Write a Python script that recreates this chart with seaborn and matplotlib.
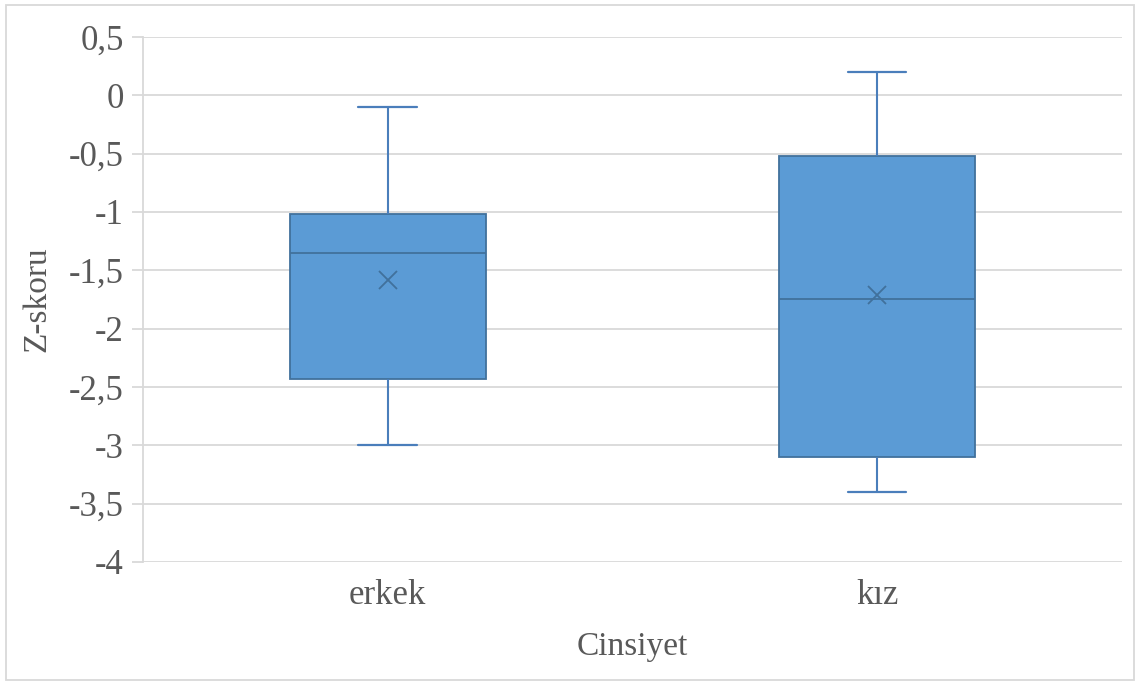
import numpy as np
import pandas as pd
import seaborn as sns
import matplotlib.pyplot as plt
from matplotlib.colors import to_hex
from matplotlib.patches import Rectangle
from matplotlib.ticker import FuncFormatter

# five-number values per group (min, q1, median, q3, max)
erkek = [-3.0, -2.43, -1.35, -1.02, -0.1]
kiz = [-3.4, -3.1, -1.75, -0.52, 0.2]
groups = ["erkek", "kız"]
yticks = np.arange(-4, 0.51, 0.5)

df = pd.DataFrame({
    "Cinsiyet": [groups[0]] * len(erkek) + [groups[1]] * len(kiz),
    "Z-skoru": erkek + kiz,
})

sns.set_style("white")
plt.rcParams["font.family"] = ["Liberation Serif", "DejaVu Serif"]

fig = plt.figure(figsize=(11.4, 6.84), dpi=100)
ax = fig.add_axes([0.1254, 0.1784, 0.8586, 0.7675])

line_col = "#4a7ebb"
sns.boxplot(data=df, x="Cinsiyet", y="Z-skoru", ax=ax, whis=(0, 100), width=0.4,
            color="#5b9bd5", saturation=1, showmeans=True,
            boxprops=dict(facecolor="#5b9bd5", edgecolor="#41719c", linewidth=1.3),
            medianprops=dict(color="#41719c", linewidth=1.3),
            whiskerprops=dict(color=line_col, linewidth=1.5),
            capprops=dict(color=line_col, linewidth=1.6),
            meanprops=dict(marker="x", markeredgecolor="#41719c", markersize=13,
                           markeredgewidth=1.3),
            zorder=3)

# narrower caps like the original
for ln in ax.lines:
    xd = np.asarray(ln.get_xdata(), float)
    yd = np.asarray(ln.get_ydata(), float)
    if len(xd) == 2 and yd[0] == yd[1] and to_hex(ln.get_color()) == line_col:
        c = xd.mean()
        ln.set_xdata([c - 0.06, c + 0.06])

ax.set_ylim(-4, 0.5)
ax.set_xlim(-0.5, 1.5)
ax.set_yticks(yticks)
ax.yaxis.set_major_formatter(FuncFormatter(lambda v, p: f"{v:g}".replace(".", ",")))
ax.grid(axis="y", color="#d9d9d9", linewidth=1.3, zorder=0)
ax.set_axisbelow(True)
for s in ["top", "right", "bottom"]:
    ax.spines[s].set_visible(False)
ax.spines["left"].set_color("#d9d9d9")
ax.spines["left"].set_linewidth(1.3)
ax.tick_params(axis="y", length=8, width=1.3, color="#d9d9d9", labelsize=25,
               labelcolor="#595959", pad=6, left=True)
ax.tick_params(axis="x", length=0, labelsize=25, labelcolor="#595959", pad=12)
ax.set_xlabel("Cinsiyet", fontsize=24, color="#595959", labelpad=14)
ax.set_ylabel("Z-skoru", fontsize=24, color="#595959", labelpad=12)

fig.patches.append(Rectangle((0.005, 0.006), 0.99, 0.987, transform=fig.transFigure,
                             fill=False, edgecolor="#d9d9d9", linewidth=1.3))

fig.savefig("out.png", dpi=100)
